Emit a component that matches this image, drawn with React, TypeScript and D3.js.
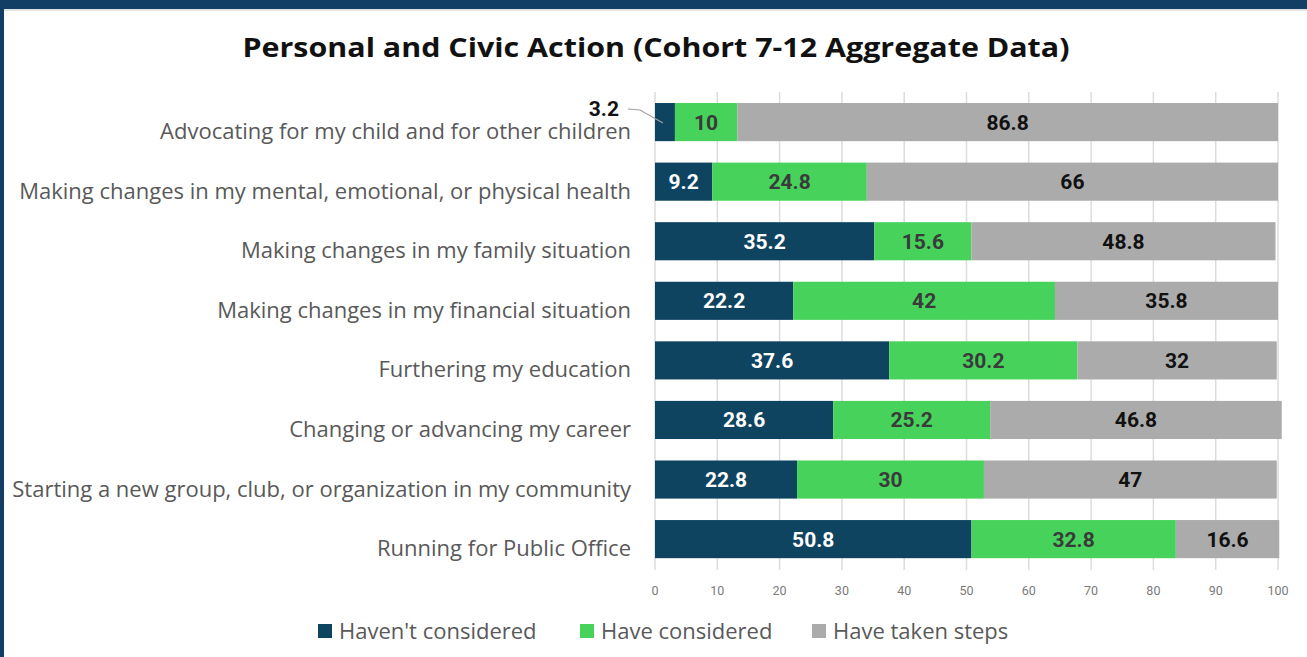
import React from "react";
import * as d3 from "d3";

const categories = [
  "Advocating for my child and for other children",
  "Making changes in my mental, emotional, or physical health",
  "Making changes in my family situation",
  "Making changes in my financial situation",
  "Furthering my education",
  "Changing or advancing my career",
  "Starting a new group, club, or organization in my community",
  "Running for Public Office",
];
const havenTConsidered = [3.2, 9.2, 35.2, 22.2, 37.6, 28.6, 22.8, 50.8];
const haveConsidered = [10, 24.8, 15.6, 42, 30.2, 25.2, 30, 32.8];
const haveTakenSteps = [86.8, 66, 48.8, 35.8, 32, 46.8, 47, 16.6];
const seriesNames = ["Haven't considered", "Have considered", "Have taken steps"];
const ticks = [0, 10, 20, 30, 40, 50, 60, 70, 80, 90, 100];

const colors = ["#0f4461", "#47d35b", "#ababab"];
const labelColors = ["#ffffff", "#3a3a3a", "#111111"];
const FONT = "'Open Sans', Roboto, sans-serif";
const NUMFONT = "Roboto, sans-serif";

export default function App() {
  const W = 1307, H = 657;
  const x = d3.scaleLinear().domain([0, 100]).range([655, 1278]);
  const y = d3.scaleBand<string>().domain(categories).range([92.3, 568.9]).paddingInner(0.36).paddingOuter(0.18);
  const series = [havenTConsidered, haveConsidered, haveTakenSteps];
  const rows = categories.map((c, i) => {
    let acc = 0;
    return series.map((s, k) => {
      const v = s[i];
      const seg = { k, x0: acc, x1: acc + v, v, cat: c };
      acc += v;
      return seg;
    });
  });
  const legendX = [318, 580, 812];
  return (
    <svg width={W} height={H} style={{ position: "absolute", left: 0, top: 0, display: "block" }} fontFamily={FONT}>
      <rect x={0} y={0} width={W} height={H} fill="#ffffff" />
      <rect x={0} y={0} width={W} height={9} fill="#123e66" />
      <rect x={0} y={0} width={4} height={H} fill="#123e66" />
      <line x1={4} x2={W} y1={10} y2={10} stroke="#e2e2e2" strokeWidth={2} />
      <text x={656} y={57} textAnchor="middle" fontSize={27.5} fontWeight="bold" fill="#111"
        textLength={827} lengthAdjust="spacingAndGlyphs">
        Personal and Civic Action (Cohort 7-12 Aggregate Data)
      </text>
      {ticks.map((t) => (
        <g key={t}>
          <line x1={x(t)} x2={x(t)} y1={92} y2={570} stroke="#dcdcdc" strokeWidth={1.5} />
          <text x={x(t)} y={595} textAnchor="middle" fontSize={12.5} fill="#7a7a7a" fontFamily={NUMFONT}>{t}</text>
        </g>
      ))}
      {categories.map((c) => (
        <text key={c} x={631} y={(y(c) as number) + y.bandwidth() / 2 + 17} textAnchor="end" fontSize={22} fill="#595959">
          {c}
        </text>
      ))}
      {rows.map((segs, i) =>
        segs.map((s) => {
          const by = y(s.cat) as number;
          const bh = y.bandwidth();
          const w = x(s.x1) - x(s.x0);
          const inside = w > 30;
          return (
            <g key={i + "-" + s.k}>
              <rect x={x(s.x0)} y={by} width={w} height={bh} fill={colors[s.k]} />
              {inside && (
                <text x={(x(s.x0) + x(s.x1)) / 2} y={by + bh / 2 + 7.5} textAnchor="middle" fontSize={21} fontWeight="bold" fill={labelColors[s.k]} fontFamily={NUMFONT}>
                  {s.v}
                </text>
              )}
            </g>
          );
        })
      )}
      {(() => {
        const c = categories[0];
        const by = y(c) as number;
        const v = havenTConsidered[0];
        return (
          <g>
            <polyline points={`${628},${by + 6} ${640},${by + 7} ${x(v / 2) - 2},${by + 20}`} fill="none" stroke="#a0a0a0" strokeWidth={1.2} />
            <text x={619} y={by + 13} textAnchor="end" fontSize={21} fontWeight="bold" fill="#111" fontFamily={NUMFONT}>{v}</text>
          </g>
        );
      })()}
      {seriesNames.map((n, k) => (
        <g key={n}>
          <rect x={legendX[k]} y={624} width={14} height={14} fill={colors[k]} />
          <text x={legendX[k] + 21} y={639} fontSize={22} fill="#595959">{n}</text>
        </g>
      ))}
    </svg>
  );
}
